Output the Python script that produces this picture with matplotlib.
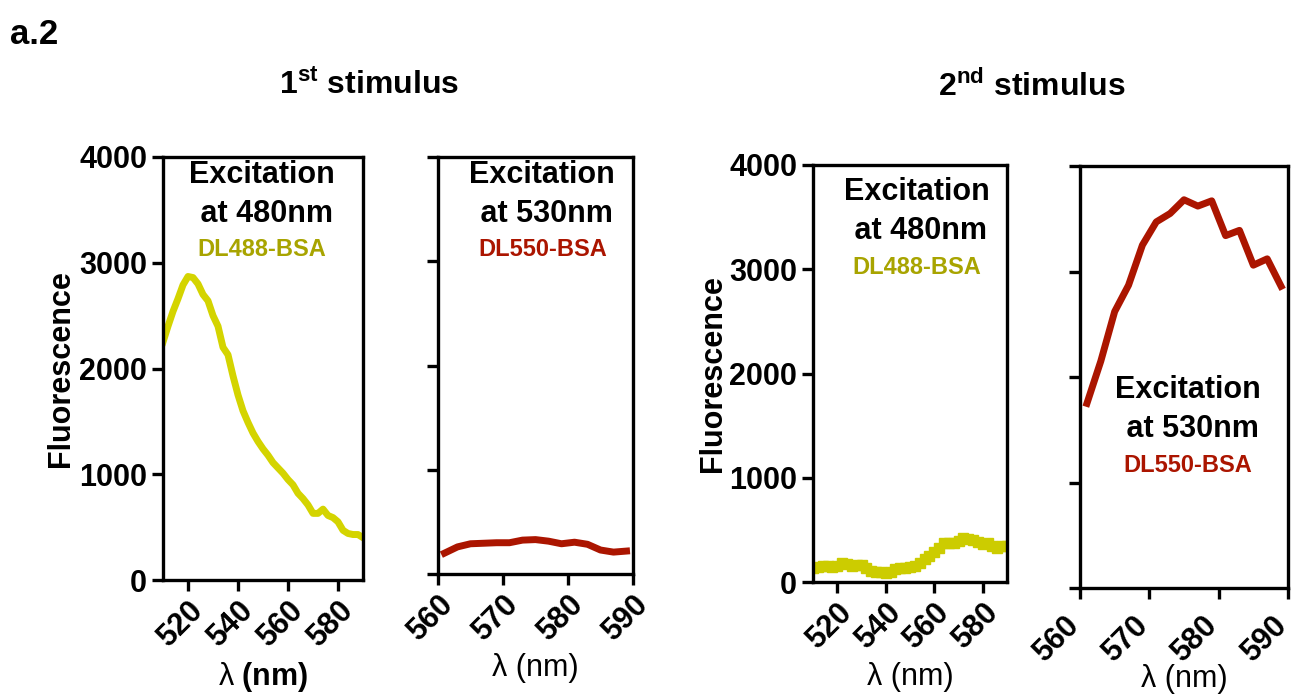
import matplotlib
matplotlib.use("Agg")
import matplotlib.pyplot as plt
from matplotlib.transforms import offset_copy

plt.rcParams['font.family'] = ['Liberation Sans', 'DejaVu Sans']
plt.rcParams['mathtext.fontset'] = 'custom'
plt.rcParams['mathtext.rm'] = 'Liberation Sans:bold'
plt.rcParams['mathtext.bf'] = 'Liberation Sans:bold'

# 1st stimulus, excitation at 480nm (DL488-BSA)
wl_1a = [510, 512, 514, 516, 518, 520, 522, 524, 526, 528, 530, 532, 534, 536, 538, 540,
         542, 544, 546, 548, 550, 552, 554, 556, 558, 560, 562, 564, 566, 568, 570, 572,
         574, 576, 578, 580, 582, 584, 586, 588, 590]
fl_1a = [2250, 2400, 2540, 2660, 2790, 2870, 2860, 2800, 2700, 2640, 2500, 2400, 2200, 2130,
         1930, 1750, 1600, 1490, 1390, 1310, 1240, 1180, 1110, 1060, 1010, 950, 900, 820,
         770, 710, 630, 630, 670, 610, 590, 550, 470, 440, 430, 430, 400]

# 1st stimulus, excitation at 530nm (DL550-BSA)
wl_1b = [561, 563, 565, 567, 569, 571, 573, 575, 577, 579, 581, 583, 585, 587, 589]
fl_1b = [200, 260, 290, 295, 300, 300, 325, 330, 315, 290, 305, 285, 230, 210, 220]

# 2nd stimulus, excitation at 480nm
wl_2a = [510, 512, 514, 516, 518, 520, 522, 524, 526, 528, 530, 532, 534, 536, 538, 540,
         542, 544, 546, 548, 550, 552, 554, 556, 558, 560, 562, 564, 566, 568, 570, 572,
         574, 576, 578, 580, 582, 584, 586, 588, 590]
fl_2a = [130, 140, 150, 150, 145, 155, 180, 175, 150, 160, 165, 130, 110, 100, 95, 85,
         100, 120, 130, 135, 140, 155, 180, 220, 250, 290, 330, 370, 375, 375, 390, 420,
         410, 400, 380, 365, 370, 350, 330, 345, 350]

# 2nd stimulus, excitation at 530nm
wl_2b = [561, 563, 565, 567, 569, 571, 573, 575, 577, 579, 581, 583, 585, 587, 589]
fl_2b = [1750, 2150, 2620, 2870, 3250, 3470, 3550, 3680, 3620, 3670, 3340, 3390, 3060, 3120, 2860]

yellow = '#d4d400'
yellow_txt = '#a8a400'
red = '#ab1500'

W, H = 1292, 698
fig = plt.figure(figsize=(W / 100, H / 100), dpi=100)


def px_axes(left, right, top, bottom):
    return fig.add_axes([left / W, 1 - bottom / H, (right - left) / W, (bottom - top) / H])


def style(ax, xlim, xticks, ylabels=True, xpad=3.5, xva='top'):
    ax.set_xlim(*xlim)
    ax.set_ylim(0, 4000)
    ax.set_xticks(xticks)
    ax.set_yticks([0, 1000, 2000, 3000, 4000])
    for s in ax.spines.values():
        s.set_linewidth(2.4)
    ax.tick_params(direction='out', length=8, width=2.4, labelsize=22)
    ax.tick_params(axis='x', pad=xpad)
    ax.set_xticklabels([str(t) for t in xticks], rotation=45, ha='right', va=xva,
                       rotation_mode='anchor', fontweight='bold')
    if ylabels:
        for lab in ax.get_yticklabels():
            lab.set_fontweight('bold')
    else:
        ax.set_yticklabels([])


def label_block(ax, xfrac, top_px, exc, dye, col):
    # top_px: distance (pixels) of the "Excitation" line centre below the axes top
    for txt, dy, size, c in [('Excitation', top_px, 22, 'black'),
                             (' at ' + exc, top_px + 39, 22, 'black'),
                             (dye, top_px + 75, 17, col)]:
        tr = offset_copy(ax.transAxes, fig=fig, x=0, y=-dy, units='dots')
        ax.text(xfrac, 1.0, txt, transform=tr, ha='center', va='center',
                fontsize=size, fontweight='bold', color=c)


# panel 1
ax1 = px_axes(163, 363, 157, 580)
ax1.plot(wl_1a, fl_1a, color=yellow, lw=5)
style(ax1, (510, 590), [520, 540, 560, 580])
ax1.set_ylabel('Fluorescence', fontsize=22, fontweight='bold', labelpad=2)
ax1.set_xlabel(r'λ $\mathbf{(nm)}$', fontsize=22, labelpad=5)
label_block(ax1, 0.495, 18, '480nm', 'DL488-BSA', yellow_txt)

# panel 2
ax2 = px_axes(438, 633, 157, 574)
ax2.plot(wl_1b, fl_1b, color=red, lw=5)
style(ax2, (560, 590), [560, 570, 580, 590], ylabels=False)
ax2.set_xlabel('λ (nm)', fontsize=22, labelpad=4)
label_block(ax2, 0.535, 18, '530nm', 'DL550-BSA', red)

# panel 3
ax3 = px_axes(813, 1007, 165, 582)
ax3.plot(wl_2a, fl_2a, color='#cccc00', lw=4, marker='s', ms=7)
style(ax3, (510, 590), [520, 540, 560, 580])
ax3.set_ylabel('Fluorescence', fontsize=22, fontweight='bold', labelpad=1)
ax3.set_xlabel('λ (nm)', fontsize=22, labelpad=5)
label_block(ax3, 0.536, 27, '480nm', 'DL488-BSA', yellow_txt)

# panel 4: baseline-anchored labels so "590" stays inside the figure edge
ax4 = px_axes(1080, 1288, 166, 588)
ax4.plot(wl_2b, fl_2b, color=red, lw=5)
style(ax4, (560, 590), [560, 570, 580, 590], ylabels=False, xpad=20, xva='baseline')
ax4.set_xlabel('λ (nm)', fontsize=22, labelpad=-3)
label_block(ax4, 0.52, 224, '530nm', 'DL550-BSA', red)

fig.text(10 / W, 1 - 35 / H, 'a.2', fontsize=25, fontweight='bold', va='center')
fig.text(369 / W, 1 - 85 / H, r'1$^{\mathbf{st}}$ stimulus', fontsize=23, fontweight='bold',
         ha='center', va='center')
fig.text(1032 / W, 1 - 87 / H, r'2$^{\mathbf{nd}}$ stimulus', fontsize=23, fontweight='bold',
         ha='center', va='center')

fig.savefig('out.png', dpi=100)
